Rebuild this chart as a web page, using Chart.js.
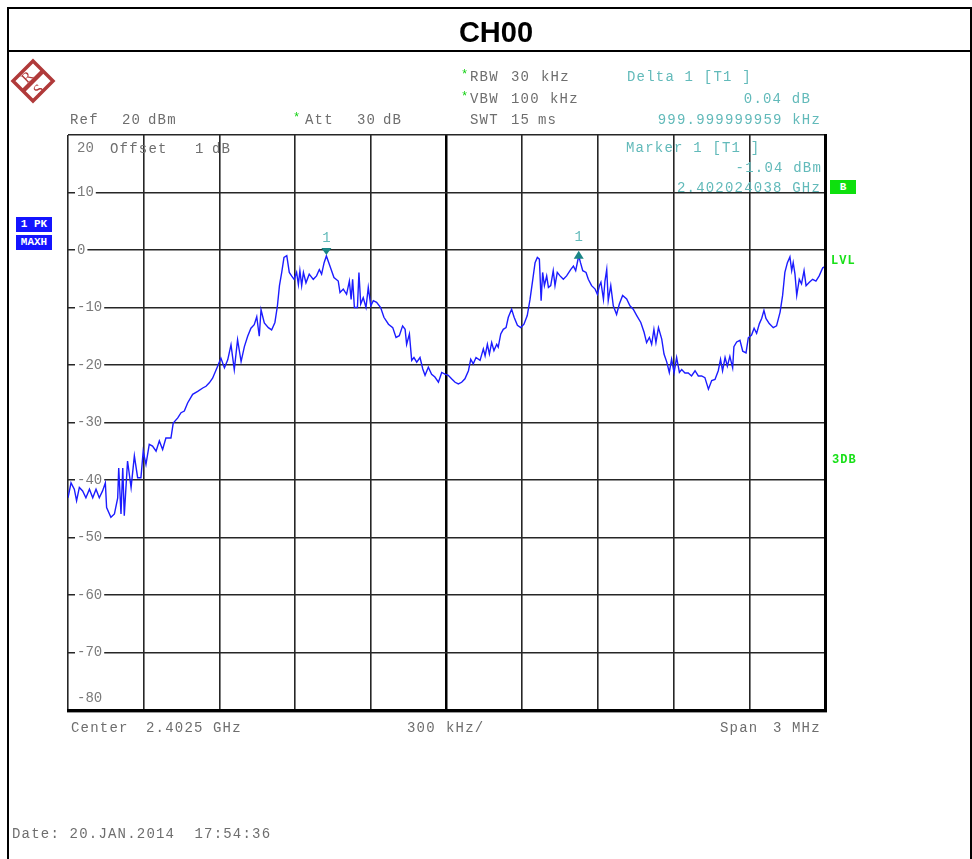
<!DOCTYPE html>
<html>
<head>
<meta charset="utf-8">
<script src="https://cdn.jsdelivr.net/npm/chart.js@4.4.1/dist/chart.umd.min.js"></script>
<style>
  body { margin: 0; background: #fff; }
  #page { position: relative; width: 972px; height: 859px; overflow: hidden; background: #fff; }
  #c { position: absolute; left: 0; top: 0; }
  .t { position: absolute; font-family: "Liberation Mono", monospace; font-size: 14px; line-height: 14px;
       letter-spacing: 1.2px; color: #6e6e6e; white-space: pre; }
  .teal { color: #62baba; }
  .star { color: #10d010; font-size: 12px; }
  .g { color: #18e018; font-weight: bold; font-size: 12px; letter-spacing: 1px; }
  .box { position: absolute; font-family: "Liberation Mono", monospace; font-weight: bold; font-size: 11px;
         line-height: 15px; color: #fff; text-align: center; }
</style>
</head>
<body>
<div id="page">
  <canvas id="c" width="972" height="859"></canvas>
  <div style="position:absolute;left:7px;top:7px;width:961px;height:900px;border:2px solid #000;"></div>
  <div style="position:absolute;left:7px;top:50px;width:965px;height:2px;background:#000;"></div>
  <div style="position:absolute;left:22px;top:16px;width:948px;text-align:center;font:bold 29px 'Liberation Sans',Arial,sans-serif;color:#000;">CH00</div>
  <svg style="position:absolute;left:10px;top:58px" width="46" height="46" viewBox="0 0 46 46">
    <path d="M23 3 L43 23 L23 43 L3 23 Z" fill="none" stroke="#b03a3a" stroke-width="3.5"/>
    <line x1="33" y1="13" x2="13" y2="33" stroke="#b03a3a" stroke-width="4.5"/>
    <text x="12" y="24" font-family="Liberation Serif" font-size="15" fill="#b03a3a" transform="rotate(-45 17 19)">R</text>
    <text x="24" y="36" font-family="Liberation Serif" font-size="15" fill="#b03a3a" transform="rotate(-45 29 31)">S</text>
  </svg>
  <div class="box" style="left:16px;top:217px;width:36px;height:15px;background:#1414ff;">1 PK</div>
  <div class="box" style="left:16px;top:235px;width:36px;height:15px;background:#1414ff;">MAXH</div>
  <div class="box" style="left:830px;top:180px;width:26px;height:14px;line-height:14px;background:#0ee00e;">B</div>
  <div id="labels"></div>
</div>
<script>
// spectrum trace, frequency offset from 2.4010 GHz (kHz) and level (dBm)
const freqOffsetKHz = [
  0, 12, 25, 34, 45, 58, 71, 85, 98, 111, 124, 137, 148, 153, 170, 184, 197, 201, 210, 217,
  223, 236, 250, 263, 276, 289, 298, 309, 322, 335, 349, 362, 375, 388, 408, 417, 435, 448, 461, 474,
  494, 514, 534, 547, 560, 573, 593, 606, 620, 633, 646, 659, 672, 686, 699, 712, 725, 738, 748, 758,
  765, 778, 794, 807, 820, 830, 838, 847, 856, 867, 877, 886, 896, 906, 913, 919, 926, 933, 943, 956,
  972, 985, 996, 1005, 1015, 1024, 1038, 1054, 1071, 1078, 1091, 1104, 1115, 1122, 1128, 1135, 1147, 1153, 1160, 1170,
  1181, 1190, 1200, 1210, 1223, 1239, 1252, 1270, 1287, 1300, 1313, 1326, 1336, 1342, 1353, 1362, 1371, 1382, 1395, 1406,
  1415, 1428, 1441, 1454, 1468, 1481, 1494, 1507, 1520, 1534, 1547, 1560, 1573, 1587, 1596, 1606, 1617, 1633, 1646, 1653,
  1662, 1670, 1679, 1688, 1699, 1705, 1715, 1725, 1736, 1745, 1758, 1768, 1781, 1794, 1807, 1820, 1831, 1842, 1851, 1860,
  1868, 1875, 1881, 1888, 1897, 1904, 1913, 1923, 1930, 1939, 1950, 1963, 1976, 1992, 2003, 2012, 2024, 2031, 2040, 2053,
  2062, 2075, 2089, 2098, 2106, 2112, 2122, 2128, 2135, 2141, 2151, 2161, 2174, 2185, 2198, 2214, 2227, 2240, 2254, 2270,
  2283, 2293, 2304, 2313, 2322, 2330, 2340, 2353, 2362, 2373, 2383, 2392, 2402, 2412, 2423, 2432, 2445, 2458, 2471, 2485,
  2498, 2511, 2524, 2538, 2551, 2564, 2577, 2586, 2594, 2604, 2613, 2623, 2634, 2639, 2650, 2663, 2674, 2687, 2696, 2709,
  2719, 2729, 2740, 2749, 2758, 2766, 2779, 2795, 2808, 2822, 2832, 2841, 2851, 2861, 2868, 2874, 2881, 2888, 2898, 2907,
  2917, 2925, 2938, 2951, 2964, 2977, 2991, 3000
];
const traceDbm = [
  -43.1, -40.5, -41.6, -43.6, -41.3, -41.9, -43.1, -41.6, -43.1, -41.6, -43.1, -41.9, -40.5, -44.8, -46.5, -45.9, -43.1, -37.9, -45.9, -37.9,
  -46.2, -36.7, -41.3, -35.8, -39.6, -39.6, -35.0, -37.3, -33.8, -34.1, -35.0, -33.2, -34.7, -32.7, -32.7, -30.1, -29.2, -28.3, -28.0, -26.6,
  -25.1, -24.6, -24.0, -23.7, -23.1, -22.3, -20.2, -18.8, -20.5, -19.1, -16.5, -20.8, -15.6, -19.4, -16.8, -15.0, -13.6, -13.0, -11.6, -15.0,
  -10.4, -12.7, -13.5, -13.9, -12.6, -9.7, -6.2, -3.9, -1.3, -1.0, -3.9, -4.5, -5.1, -3.9, -6.0, -3.6, -6.2, -3.9, -5.7, -4.2,
  -5.1, -4.5, -3.4, -4.2, -2.2, -1.04, -2.8, -4.8, -5.4, -7.4, -6.8, -7.7, -5.4, -8.6, -5.1, -10.0, -10.0, -3.9, -9.4, -8.3,
  -10.0, -6.5, -9.7, -8.8, -9.1, -10.0, -11.7, -12.9, -13.5, -15.2, -14.9, -13.2, -13.8, -16.4, -14.6, -19.2, -18.7, -19.5, -18.7, -20.7,
  -21.8, -20.4, -21.6, -22.1, -23.0, -21.3, -21.6, -21.8, -22.4, -23.0, -23.3, -23.0, -22.4, -21.0, -19.0, -19.8, -18.7, -19.2, -17.2, -18.4,
  -16.4, -18.1, -16.1, -17.5, -16.4, -16.9, -14.6, -13.8, -13.5, -11.7, -10.3, -11.7, -13.1, -13.5, -12.9, -11.4, -8.6, -5.1, -2.2, -1.3,
  -1.6, -8.8, -3.9, -6.2, -4.5, -6.5, -6.2, -3.6, -6.2, -3.9, -4.5, -5.1, -4.5, -3.4, -2.8, -3.6, -1.0, -2.2, -3.6, -3.9,
  -5.1, -6.2, -6.8, -7.7, -6.2, -5.6, -8.6, -5.4, -3.4, -8.8, -6.2, -9.7, -11.2, -9.4, -7.9, -8.5, -9.7, -10.3, -11.4, -12.6,
  -14.3, -16.1, -15.2, -16.4, -13.8, -16.1, -13.5, -15.5, -18.1, -19.5, -21.3, -19.0, -21.3, -18.7, -21.3, -20.8, -21.4, -21.4, -21.9, -21.0,
  -21.9, -21.9, -22.2, -24.2, -22.7, -22.5, -21.0, -19.0, -21.0, -18.7, -20.2, -18.5, -20.5, -16.8, -16.0, -15.7, -17.6, -17.9, -15.3, -14.8,
  -13.6, -14.5, -12.8, -11.9, -10.5, -11.9, -12.8, -13.5, -13.2, -10.8, -7.9, -3.9, -2.2, -1.2, -3.6, -2.2, -4.2, -7.9, -5.1, -5.9,
  -3.6, -6.2, -5.6, -5.1, -5.4, -4.5, -3.1, -2.9
];
// marker 1 and delta marker 1
const markerFreqKHz = [1024, 2024];
const markerDbm = [-1.04, -1.00];
const yTickValues = [20, 10, 0, -10, -20, -30, -40, -50, -60, -70, -80];

// header / footer texts: [text, x, y, class, align]
const texts = [
  ["Ref", 70, 119], ["20", 122, 119], ["dBm", 148, 119],
  ["*", 293, 117, "star"], ["Att", 305, 119], ["30", 357, 119], ["dB", 383, 119],
  ["*", 461, 74, "star"], ["RBW", 470, 76], ["30", 511, 76], ["kHz", 541, 76],
  ["*", 461, 96, "star"], ["VBW", 470, 98], ["100", 511, 98], ["kHz", 550, 98],
  ["SWT", 470, 119], ["15", 511, 119], ["ms", 538, 119],
  ["Delta 1 [T1 ]", 627, 76, "teal"],
  ["0.04 dB", 810, 98, "teal", "r"],
  ["999.999999959 kHz", 820, 119, "teal", "r"],
  ["Marker 1 [T1 ]", 626, 147, "teal"],
  ["-1.04 dBm", 821, 167, "teal", "r"],
  ["2.402024038 GHz", 820, 187, "teal", "r"],
  ["Offset", 110, 148], ["1", 195, 148], ["dB", 212, 148],
  ["Center", 71, 727], ["2.4025", 146, 727], ["GHz", 213, 727],
  ["300", 407, 727], ["kHz/", 446, 727],
  ["Span", 720, 727], ["3", 773, 727], ["MHz", 792, 727],
  ["Date: 20.JAN.2014  17:54:36", 12, 833],
  ["LVL", 831, 260, "g"], ["3DB", 832, 459, "g"]
];
const labels = document.getElementById("labels");
texts.forEach(([s, x, y, cls, align]) => {
  const d = document.createElement("div");
  d.className = "t" + (cls ? " " + cls : "");
  d.textContent = s;
  d.style.top = (y - 6) + "px";
  if (align === "r") d.style.right = (972 - x - 1) + "px";
  else d.style.left = x + "px";
  labels.appendChild(d);
});

const yLabelPlugin = {
  id: "yLabels",
  beforeDatasetsDraw(chart) {
    const { ctx, chartArea } = chart;
    const ys = chart.scales.y;
    ctx.save();
    ctx.font = '14px "Liberation Mono"';
    ctx.textBaseline = "middle";
    yTickValues.forEach((v) => {
      let y = ys.getPixelForValue(v);
      if (v === ys.max) y += 13;
      if (v === ys.min) y -= 12;
      const s = String(v);
      const x = chartArea.left + 9;
      const w = ctx.measureText(s).width;
      ctx.fillStyle = "#fff";
      ctx.fillRect(x - 2, y - 6, w + 4, 12);
      ctx.fillStyle = "#7a7a7a";
      ctx.fillText(s, x, y);
    });
    ctx.restore();
  },
  afterDatasetsDraw(chart) {
    const { ctx, chartArea } = chart;
    const xs = chart.scales.x, ys = chart.scales.y;
    ctx.save();
    // markers
    markerFreqKHz.forEach((f, i) => {
      const px = xs.getPixelForValue(f);
      const py = ys.getPixelForValue(markerDbm[i]);
      ctx.fillStyle = "#1a8585";
      ctx.beginPath();
      if (i === 0) {
        ctx.moveTo(px - 5, py - 8);
        ctx.lineTo(px + 5, py - 8);
        ctx.lineTo(px, py - 1);
      } else {
        ctx.moveTo(px - 5, py + 3);
        ctx.lineTo(px + 5, py + 3);
        ctx.lineTo(px, py - 5);
      }
      ctx.closePath();
      ctx.fill();
      ctx.fillStyle = "#62baba";
      ctx.font = '14px "Liberation Mono"';
      ctx.textAlign = "center";
      ctx.textBaseline = "middle";
      ctx.fillText("1", px, py - 18);
    });
    // heavy right / bottom frame
    ctx.fillStyle = "#000";
    ctx.fillRect(chartArea.right - 1, chartArea.top - 1, 3, chartArea.bottom - chartArea.top + 4);
    ctx.fillRect(chartArea.left - 1, chartArea.bottom - 1, chartArea.right - chartArea.left + 3, 3);
    ctx.fillStyle = "#9a9a9a";
    ctx.fillRect(chartArea.left - 1, chartArea.bottom + 2, chartArea.right - chartArea.left + 3, 1);
    ctx.restore();
  }
};

new Chart(document.getElementById("c"), {
  type: "line",
  data: {
    datasets: [{
      data: freqOffsetKHz.map((f, i) => ({ x: f, y: traceDbm[i] })),
      borderColor: "#1c1cff",
      borderWidth: 1.4,
      pointRadius: 0,
      tension: 0,
      fill: false
    }]
  },
  options: {
    responsive: false,
    animation: false,
    layout: { padding: { left: 68, top: 135, right: 147, bottom: 149 } },
    plugins: { legend: { display: false }, tooltip: { enabled: false } },
    scales: {
      x: {
        type: "linear",
        min: 0,
        max: 3000,
        ticks: { display: false, stepSize: 300 },
        border: { display: false },
        grid: {
          drawTicks: false,
          color: (c) => (c.tick && c.tick.value === 1500 ? "#000" : "#262626"),
          lineWidth: (c) => (c.tick && c.tick.value === 1500 ? 2.5 : 1.6)
        }
      },
      y: {
        type: "linear",
        min: -80,
        max: 20,
        ticks: { display: false, stepSize: 10 },
        border: { display: false },
        grid: { drawTicks: false, color: "#262626", lineWidth: 1.6 }
      }
    }
  },
  plugins: [yLabelPlugin]
});
</script>
</body>
</html>
